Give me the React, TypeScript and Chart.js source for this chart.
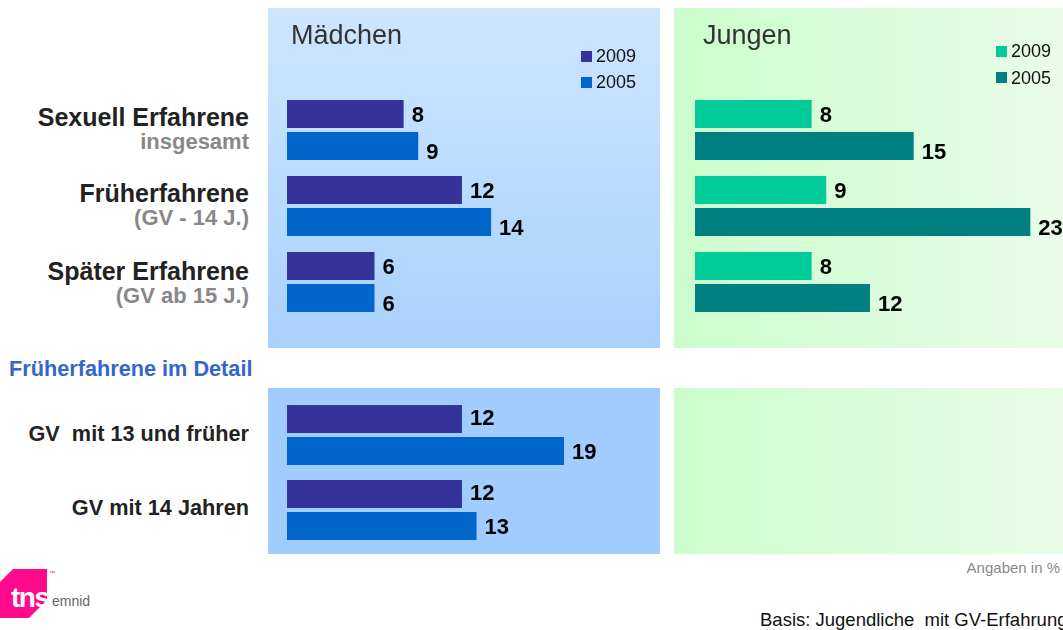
import React, { useEffect, useRef } from "react";
import { Chart, registerables } from "chart.js";

Chart.register(...registerables);

// ---------- data ----------
const topCategories = ["Sexuell Erfahrene", "Früherfahrene", "Später Erfahrene"];
const topSubLabels = ["insgesamt", "(GV - 14 J.)", "(GV ab 15 J.)"];
const detailCategories = ["GV  mit 13 und früher", "GV mit 14 Jahren"];
const seriesYears = ["2009", "2005"];
const maedchen2009 = [8, 12, 6];
const maedchen2005 = [9, 14, 6];
const jungen2009 = [8, 9, 8];
const jungen2005 = [15, 23, 12];
const detail2009 = [12, 12];
const detail2005 = [19, 13];

const FONT = "'Liberation Sans', Arial, Helvetica, sans-serif";

type PanelProps = {
  left: number;
  top: number;
  width: number;
  height: number;
  labels: string[];
  series: number[][];
  colors: string[];
  padding: { left: number; right: number; top: number; bottom: number };
  catPct: number;
  labelOffsets: number[];
  background: string;
};

function BarPanel(p: PanelProps) {
  const ref = useRef<HTMLCanvasElement>(null);
  useEffect(() => {
    const labelPlugin = {
      id: "valueLabels",
      afterDatasetsDraw(chart: any) {
        const ctx = chart.ctx;
        ctx.save();
        ctx.font = `bold 22px ${FONT}`;
        ctx.fillStyle = "#000";
        ctx.textBaseline = "middle";
        ctx.textAlign = "left";
        chart.data.datasets.forEach((ds: any, di: number) => {
          const meta = chart.getDatasetMeta(di);
          meta.data.forEach((el: any, i: number) => {
            ctx.fillText(String(ds.data[i]), el.x + 8, el.y + p.labelOffsets[di]);
          });
        });
        ctx.restore();
      },
    };
    const chart = new Chart(ref.current as HTMLCanvasElement, {
      type: "bar",
      data: {
        labels: p.labels,
        datasets: p.series.map((d, i) => ({
          label: seriesYears[i],
          data: d,
          backgroundColor: p.colors[i],
          borderWidth: 0,
          categoryPercentage: p.catPct,
          barPercentage: 0.875,
        })),
      },
      options: {
        indexAxis: "y",
        responsive: false,
        animation: false,
        layout: { padding: p.padding },
        plugins: { legend: { display: false }, tooltip: { enabled: false } },
        scales: {
          x: { display: false, min: 0, max: 25 },
          y: { display: false },
        },
      },
      plugins: [labelPlugin],
    } as any);
    return () => chart.destroy();
  }, []);
  return (
    <canvas
      ref={ref}
      width={p.width}
      height={p.height}
      style={{
        position: "absolute",
        left: p.left,
        top: p.top,
        width: p.width,
        height: p.height,
        background: p.background,
      }}
    />
  );
}

const abs = (s: React.CSSProperties): React.CSSProperties => ({ position: "absolute", lineHeight: 1, whiteSpace: "pre", ...s });

function RightLabel({ text, y, size, color }: { text: string; y: number; size: number; color: string }) {
  return (
    <div style={abs({ right: 1063 - 249, top: y, transform: "translateY(-50%)", fontSize: size, fontWeight: "bold", color, fontFamily: FONT })}>
      {text}
    </div>
  );
}

function Legend({ x, y, colors }: { x: number; y: number[]; colors: string[] }) {
  return (
    <>
      {seriesYears.map((yr, i) => (
        <React.Fragment key={yr}>
          <div style={abs({ left: x, top: y[i] - 5.5, width: 11, height: 11, background: colors[i] })} />
          <div style={abs({ left: x + 15, top: y[i], transform: "translateY(-50%)", fontSize: 18, color: "#111", fontFamily: FONT })}>{yr}</div>
        </React.Fragment>
      ))}
    </>
  );
}

const mColors = ["#333399", "#0066cc"];
const jColors = ["#00cc99", "#008080"];
const blueGrad = "linear-gradient(to bottom, #cee6fe, #a9d1fd)";
const greenGrad = "linear-gradient(to right, #ccfdcc 0%, #d6fdd6 35%, #e8fce8 100%)";

export default function App() {
  const topY = [117, 193, 271];
  const subY = [142, 218, 296];
  const detailY = [434, 508];
  return (
    <div style={{ position: "fixed", left: 0, top: 0, width: 1063, height: 630, background: "#fff", overflow: "hidden", fontFamily: FONT }}>
      <BarPanel
        left={268}
        top={8}
        width={392}
        height={340}
        labels={topCategories}
        series={[maedchen2009, maedchen2005]}
        colors={mColors}
        padding={{ left: 19, right: 8.5, top: 84, bottom: 28 }}
        catPct={64 / 76}
        labelOffsets={[2, 6.5]}
        background={blueGrad}
      />
      <BarPanel
        left={674}
        top={8}
        width={389}
        height={340}
        labels={topCategories}
        series={[jungen2009, jungen2005]}
        colors={jColors}
        padding={{ left: 21, right: 3.5, top: 84, bottom: 28 }}
        catPct={64 / 76}
        labelOffsets={[2, 6.5]}
        background={greenGrad}
      />
      <BarPanel
        left={268}
        top={388}
        width={392}
        height={166}
        labels={detailCategories}
        series={[detail2009, detail2005]}
        colors={mColors}
        padding={{ left: 19, right: 8.5, top: 9.5, bottom: 6.5 }}
        catPct={64 / 75}
        labelOffsets={[0, 1.5]}
        background="#a0ccfe"
      />
      <div style={abs({ left: 674, top: 388, width: 389, height: 166, background: greenGrad })} />

      <div style={abs({ left: 291, top: 35, transform: "translateY(-50%)", fontSize: 27, color: "#333", fontFamily: FONT })}>Mädchen</div>
      <div style={abs({ left: 703, top: 35, transform: "translateY(-50%)", fontSize: 27, color: "#333", fontFamily: FONT })}>Jungen</div>
      <Legend x={581} y={[56, 82]} colors={mColors} />
      <Legend x={996} y={[51, 77.5]} colors={jColors} />

      {topCategories.map((c, i) => (
        <RightLabel key={c} text={c} y={topY[i]} size={25} color="#222" />
      ))}
      {topSubLabels.map((c, i) => (
        <RightLabel key={c} text={c} y={subY[i]} size={22} color="#888" />
      ))}
      <div style={abs({ left: 9, top: 369, transform: "translateY(-50%)", fontSize: 21.7, fontWeight: "bold", color: "#3366cc", fontFamily: FONT })}>
        Früherfahrene im Detail
      </div>
      {detailCategories.map((c, i) => (
        <RightLabel key={c} text={c} y={detailY[i]} size={21.7} color="#222" />
      ))}

      <div style={abs({ right: 3, top: 567, transform: "translateY(-50%)", fontSize: 15, color: "#888", fontFamily: FONT })}>Angaben in %</div>
      <div style={abs({ left: 760, top: 620, transform: "translateY(-50%)", fontSize: 18.5, color: "#111", fontFamily: FONT })}>
        Basis: Jugendliche  mit GV-Erfahrung
      </div>

      <div
        style={abs({
          left: 0,
          top: 569,
          width: 47,
          height: 49,
          background: "#ff0a8c",
          clipPath: "polygon(13px 0, 47px 0, 47px 31px, 29px 49px, 0 49px, 0 13px)",
        })}
      />
      <div style={abs({ left: 11, top: 598, transform: "translateY(-50%)", fontSize: 28, fontWeight: "bold", color: "#fff", fontFamily: FONT, letterSpacing: -1.5 })}>
        tns
      </div>
      <div style={abs({ left: 49, top: 570, fontSize: 6, color: "#ff0a8c", fontFamily: FONT })}>™</div>
      <div style={abs({ left: 52, top: 601, transform: "translateY(-50%)", fontSize: 14, color: "#666", fontFamily: FONT })}>
        emnid
      </div>
    </div>
  );
}
